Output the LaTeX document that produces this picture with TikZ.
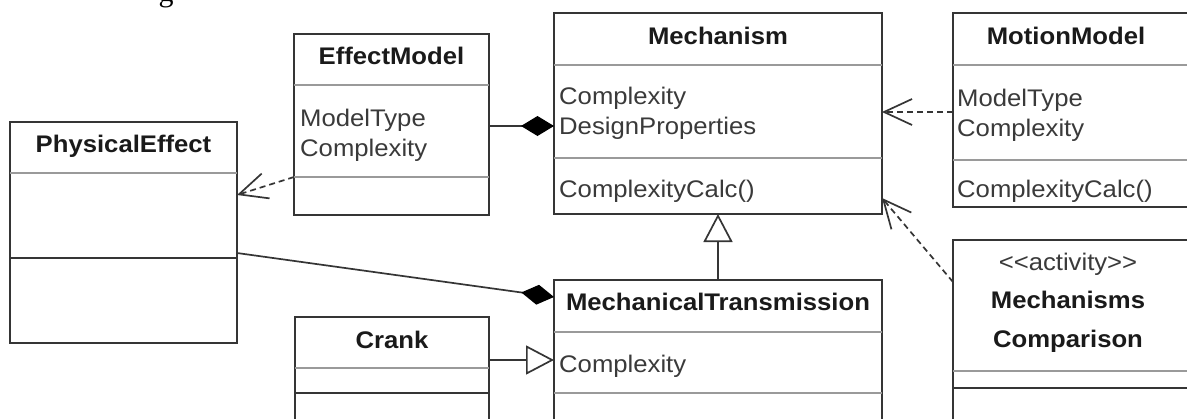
\documentclass[tikz,border=0pt]{standalone}
\usepackage{fontspec}
\setmainfont[FakeStretch=1.07]{Liberation Sans}
\newfontfamily\serifg{Liberation Serif}
\usetikzlibrary{arrows.meta,calc}
\definecolor{ln}{HTML}{353535}
\definecolor{tx}{HTML}{1A1A1A}
\definecolor{at}{HTML}{3A3A3A}
\definecolor{dv}{HTML}{9A9A9A}
\begin{document}
\begin{tikzpicture}[x=1pt,y=-1pt,
  box/.style={draw=ln,line width=1.7pt,inner sep=0pt,outer sep=0pt,anchor=north west,fill=white},
  ttl/.style={font=\bfseries\fontsize{24}{28}\selectfont,text=tx,inner sep=0pt,anchor=base},
  att/.style={font=\fontsize{24}{28}\selectfont,text=at,inner sep=0pt,anchor=base west},
  lite/.style={draw=dv,line width=1.4pt},
  dark/.style={draw=ln,line width=1.7pt},
  comp/.style={draw=ln,line width=1.7pt,-{Diamond[length=33pt,width=20pt,fill=black,color=black]}},
  gen/.style={draw=ln,line width=1.7pt,-{Triangle[open,length=28pt,width=29pt,fill=white]}},
  dep/.style={draw=ln,line width=1.7pt,dash pattern=on 6pt off 4pt,-{Straight Barb[length=28pt,width=26pt,line width=1.7pt]}}]
\useasboundingbox (0,0) rectangle (1187,418);
\clip (0,0) rectangle (1187,418);
\fill[white] (0,0) rectangle (1187,418);

% partial caption glyph at top (cut off in the reference too)
\node[font=\serifg\fontsize{30}{30}\selectfont,inner sep=0pt,anchor=base] (capg) at (166,1) {g};

% PhysicalEffect
\node[box,minimum width=227pt,minimum height=221pt] (pe) at (10,122) {};
\node[ttl] (pe-t) at (123.5,152) {PhysicalEffect};
\draw[lite] (10,173) -- (237,173);
\draw[dark] (10,258) -- (237,258);

% EffectModel
\node[box,minimum width=195pt,minimum height=181pt] (em) at (294,34) {};
\node[ttl] (em-t) at (391.5,64) {EffectModel};
\draw[lite] (294,85) -- (489,85);
\coordinate (em-d2) at (294,177);
\draw[lite] (em-d2) -- (489,177);
\node[att] (em-a1) at (300,126) {ModelType};
\node[att] (em-a2) at (300,156) {Complexity};

% Mechanism
\node[box,minimum width=328pt,minimum height=201pt] (me) at (554,13) {};
\node[ttl] (me-t) at (718,44) {Mechanism};
\draw[lite] (554,65) -- (882,65);
\draw[lite] (554,158) -- (882,158);
\node[att] (me-a1) at (559,104) {Complexity};
\node[att] (me-a2) at (559,134) {DesignProperties};
\node[att] (me-o1) at (559,197) {ComplexityCalc()};

% MotionModel
\node[box,minimum width=245pt,minimum height=194pt] (mm) at (953,13) {};
\node[ttl] (mm-t) at (1066,44) {MotionModel};
\draw[lite] (953,65) -- (1198,65);
\draw[lite] (953,160) -- (1198,160);
\node[att] (mm-a1) at (957,106) {ModelType};
\node[att] (mm-a2) at (957,136) {Complexity};
\node[att] (mm-o1) at (957,197) {ComplexityCalc()};

% MechanicalTransmission
\node[box,minimum width=328pt,minimum height=160pt] (mt) at (554,280) {};
\node[ttl] (mt-t) at (718,310) {MechanicalTransmission};
\draw[lite] (554,332) -- (882,332);
\draw[lite] (554,393) -- (882,393);
\node[att] (mt-a1) at (559,372) {Complexity};

% Crank
\node[box,minimum width=194pt,minimum height=123pt] (cr) at (295,317) {};
\node[ttl] (cr-t) at (392,348) {Crank};
\draw[lite] (295,368) -- (489,368);
\draw[dark] (295,393) -- (489,393);

% Mechanisms Comparison
\node[box,minimum width=245pt,minimum height=200pt] (mc) at (953,240) {};
\node[att,anchor=base] (mc-s) at (1068,270) {<\kern0pt<activity>\kern0pt>};
\node[ttl] (mc-t1) at (1068,308) {Mechanisms};
\node[ttl] (mc-t2) at (1068,347) {Comparison};
\draw[lite] (953,371) -- (1198,371);
\draw[dark] (953,388) -- (1198,388);

% connectors
\draw[comp] ([yshift=-1.5pt]em.east) -- ([yshift=-1.5pt]em.east -| me.west);
\draw[dep] (em-d2) -- ([yshift=37.5pt]pe.east);
\draw[dep] ([yshift=-2pt]mm.west) -- ([yshift=-2pt]mm.west -| me.east);
\draw[dep] ([yshift=-42pt]mc.north west) -- ([yshift=16pt]me.south east);
\draw[gen] (mt.north) -- (me.south);
\draw[gen] ([yshift=18.5pt]cr.east) -- ([yshift=18.5pt]cr.east -| mt.west);
\draw[comp] ([yshift=-20.5pt]pe.east) -- ([yshift=-17pt]mt.north west);
\end{tikzpicture}
\end{document}
